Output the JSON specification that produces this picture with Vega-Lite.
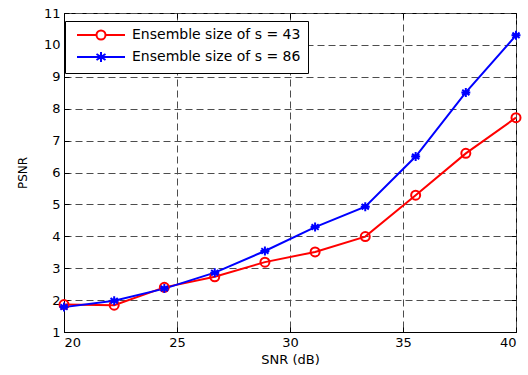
{
  "$schema": "https://vega.github.io/schema/vega-lite/v6.json",
  "width": 452,
  "height": 319,
  "autosize": {"type": "none"},
  "padding": {"left": 64, "top": 13, "right": 12, "bottom": 43},
  "background": "white",
  "config": {
    "view": {"stroke": "black", "strokeWidth": 1},
    "font": "DejaVu Sans",
    "axis": {
      "domainColor": "black",
      "tickColor": "black",
      "tickSize": -5,
      "labelColor": "black",
      "labelFontSize": 13,
      "labelFont": "DejaVu Sans",
      "titleFont": "DejaVu Sans",
      "titleFontSize": 13,
      "titleFontWeight": "normal",
      "titleColor": "black",
      "gridColor": "#4d4d4d",
      "gridDash": [7, 4],
      "gridWidth": 1,
      "gridOpacity": 1
    }
  },
  "data": {
    "values": [
      {"snr": 20.0, "psnr": 1.86, "series": "Ensemble size of s = 43"},
      {"snr": 22.22, "psnr": 1.84, "series": "Ensemble size of s = 43"},
      {"snr": 24.44, "psnr": 2.4, "series": "Ensemble size of s = 43"},
      {"snr": 26.67, "psnr": 2.73, "series": "Ensemble size of s = 43"},
      {"snr": 28.89, "psnr": 3.19, "series": "Ensemble size of s = 43"},
      {"snr": 31.11, "psnr": 3.51, "series": "Ensemble size of s = 43"},
      {"snr": 33.33, "psnr": 3.99, "series": "Ensemble size of s = 43"},
      {"snr": 35.56, "psnr": 5.29, "series": "Ensemble size of s = 43"},
      {"snr": 37.78, "psnr": 6.6, "series": "Ensemble size of s = 43"},
      {"snr": 40.0, "psnr": 7.72, "series": "Ensemble size of s = 43"},
      {"snr": 20.0, "psnr": 1.78, "series": "Ensemble size of s = 86"},
      {"snr": 22.22, "psnr": 1.98, "series": "Ensemble size of s = 86"},
      {"snr": 24.44, "psnr": 2.36, "series": "Ensemble size of s = 86"},
      {"snr": 26.67, "psnr": 2.86, "series": "Ensemble size of s = 86"},
      {"snr": 28.89, "psnr": 3.54, "series": "Ensemble size of s = 86"},
      {"snr": 31.11, "psnr": 4.29, "series": "Ensemble size of s = 86"},
      {"snr": 33.33, "psnr": 4.93, "series": "Ensemble size of s = 86"},
      {"snr": 35.56, "psnr": 6.5, "series": "Ensemble size of s = 86"},
      {"snr": 37.78, "psnr": 8.51, "series": "Ensemble size of s = 86"},
      {"snr": 40.0, "psnr": 10.3, "series": "Ensemble size of s = 86"}
    ]
  },
  "resolve": {"axis": {"x": "independent", "y": "independent"}},
  "layer": [
    {
      "mark": {"type": "line", "strokeWidth": 2},
      "encoding": {
        "x": {
          "field": "snr",
          "type": "quantitative",
          "scale": {"domain": [20, 40], "nice": false},
          "axis": {"title": "SNR (dB)", "values": [20, 25, 30, 35, 40], "labelPadding": 9, "titlePadding": 4}
        },
        "y": {
          "field": "psnr",
          "type": "quantitative",
          "scale": {"domain": [1, 11], "nice": false},
          "axis": {"title": "PSNR", "titleFontSize": 12, "values": [1, 2, 3, 4, 5, 6, 7, 8, 9, 10, 11], "labelPadding": 9, "titlePadding": 14}
        },
        "color": {
          "field": "series",
          "type": "nominal",
          "scale": {"domain": ["Ensemble size of s = 43", "Ensemble size of s = 86"], "range": ["#ff0000", "#0000ff"]},
          "legend": {
            "title": null,
            "orient": "none",
            "legendX": 1,
            "legendY": 8,
            "fillColor": "white",
            "strokeColor": "black",
            "padding": 7,
            "rowPadding": 4,
            "labelFontSize": 14,
            "labelLimit": 400,
            "labelFont": "DejaVu Sans",
            "labelColor": "black",
            "labelOffset": 46,
            "symbolSize": 100,
            "symbolStrokeWidth": 2,
            "symbolFillColor": "transparent",
            "symbolType": "M-0.4,0H3.5M5.3,0H9.2M5.3,0A0.9,0.9 0 1,1 3.5,0A0.9,0.9 0 1,1 5.3,0",
            "encode": {
              "symbols": {
                "update": {
                  "shape": {"signal": "datum.value == 'Ensemble size of s = 43' ? 'M-0.4,0H3.5M5.3,0H9.2M5.3,0A0.9,0.9 0 1,1 3.5,0A0.9,0.9 0 1,1 5.3,0' : 'M-0.4,0H9.2M4.4,-1V1M3.5,-0.6L5.3,0.6M3.5,0.6L5.3,-0.6'"}
                }
              }
            }
          }
        }
      }
    },
    {
      "transform": [{"filter": "datum.series == 'Ensemble size of s = 43'"}],
      "mark": {"type": "point", "shape": "circle", "filled": false, "strokeWidth": 2, "size": 81, "opacity": 1, "color": "#ff0000"},
      "encoding": {
        "x": {
          "field": "snr",
          "type": "quantitative",
          "axis": {"orient": "top", "values": [20, 25, 30, 35, 40], "labels": false, "title": null, "grid": false, "domain": false}
        },
        "y": {
          "field": "psnr",
          "type": "quantitative",
          "axis": {"orient": "right", "values": [1, 2, 3, 4, 5, 6, 7, 8, 9, 10, 11], "labels": false, "title": null, "grid": false, "domain": false}
        }
      }
    },
    {
      "transform": [{"filter": "datum.series == 'Ensemble size of s = 86'"}],
      "mark": {"type": "point", "shape": "M-1,0H1M0,-1V1M-0.8,-0.6L0.8,0.6M-0.8,0.6L0.8,-0.6", "filled": false, "strokeWidth": 2, "size": 81, "opacity": 1, "color": "#0000ff"},
      "encoding": {
        "x": {"field": "snr", "type": "quantitative", "axis": null},
        "y": {"field": "psnr", "type": "quantitative", "axis": null}
      }
    }
  ]
}
